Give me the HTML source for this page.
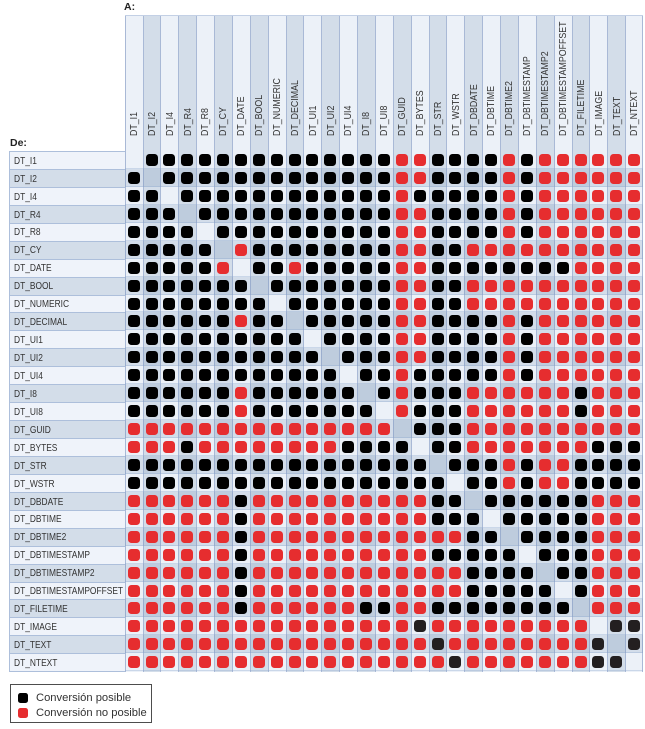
<!DOCTYPE html>
<html><head><meta charset="utf-8">
<style>
*{margin:0;padding:0;box-sizing:border-box}
body{width:645px;height:729px;background:#fff;position:relative;overflow:hidden;font-family:"Liberation Sans",Arial,sans-serif;color:#333}
.A{position:absolute;left:124px;top:1px;font-size:10.5px;font-weight:bold;color:#222}
.De{position:absolute;left:10px;top:137px;font-size:10.5px;font-weight:bold;color:#222}
.cols{position:absolute;left:124.7px;top:15px;height:656.7px;display:flex;border-top:1px solid #c3d0e5}
.c{position:relative;width:17.88px;height:100%;border-left:1px solid #a9b9d6;background:#ecf1f8}
.c:nth-child(even){background:#d3dde9}
.c:last-child{border-right:1px solid #a9b9d6}
.c span{position:absolute;left:3.3px;top:120px;font-size:10.5px;line-height:1;white-space:nowrap;transform-origin:0 0;transform:rotate(-90deg) scaleX(.84);color:#333}
.rows{position:absolute;left:124.7px;top:151px;width:518.6px}
.rows div{height:17.95px;border-bottom:1px solid rgba(140,165,205,.35)}
.rows div:nth-child(even){background:rgba(90,125,165,.17)}
.lab{position:absolute;left:9px;top:151px;width:115.7px;border-left:1px solid #adbfdb;border-top:1px solid #adbfdb}
.lab div{height:17.95px;border-bottom:1px solid #adbfdb;background:#eff3fa;font-size:10.5px;line-height:17.95px;padding-left:3.5px;white-space:nowrap}
.lab div:nth-child(even){background:#d3dde9}
.lab span{display:inline-block;transform:scaleX(.8);transform-origin:0 50%;position:relative;top:.7px}
.g{position:absolute;left:124.7px;top:151px;display:grid;grid-template-columns:repeat(29,17.88px);grid-auto-rows:17.95px}
.g i{display:block;width:12px;height:12px;margin:3px auto 0;border-radius:3.5px;background:#000}
.g i.r{background:#e62d2f}
.g i.e{background:none}
.g i.k{background:#231f20}
.leg{position:absolute;left:10px;top:684px;width:142px;height:39px;border:1px solid #4d4d4d}
.leg p{position:absolute;left:25px;font-size:11.2px;line-height:1;white-space:nowrap;color:#333}
.leg s{position:absolute;left:7px;width:10px;height:10px;border-radius:2.5px}
</style></head><body>
<div class="A">A:</div>
<div class="De">De:</div>
<div class="cols">
<div class="c"><span>DT_I1</span></div>
<div class="c"><span>DT_I2</span></div>
<div class="c"><span>DT_I4</span></div>
<div class="c"><span>DT_R4</span></div>
<div class="c"><span>DT_R8</span></div>
<div class="c"><span>DT_CY</span></div>
<div class="c"><span>DT_DATE</span></div>
<div class="c"><span>DT_BOOL</span></div>
<div class="c"><span>DT_NUMERIC</span></div>
<div class="c"><span>DT_DECIMAL</span></div>
<div class="c"><span>DT_UI1</span></div>
<div class="c"><span>DT_UI2</span></div>
<div class="c"><span>DT_UI4</span></div>
<div class="c"><span>DT_I8</span></div>
<div class="c"><span>DT_UI8</span></div>
<div class="c"><span>DT_GUID</span></div>
<div class="c"><span>DT_BYTES</span></div>
<div class="c"><span>DT_STR</span></div>
<div class="c"><span>DT_WSTR</span></div>
<div class="c"><span>DT_DBDATE</span></div>
<div class="c"><span>DT_DBTIME</span></div>
<div class="c"><span>DT_DBTIME2</span></div>
<div class="c"><span>DT_DBTIMESTAMP</span></div>
<div class="c"><span>DT_DBTIMESTAMP2</span></div>
<div class="c"><span>DT_DBTIMESTAMPOFFSET</span></div>
<div class="c"><span>DT_FILETIME</span></div>
<div class="c"><span>DT_IMAGE</span></div>
<div class="c"><span>DT_TEXT</span></div>
<div class="c"><span>DT_NTEXT</span></div>
</div>
<div class="rows">
<div></div><div></div><div></div><div></div><div></div><div></div><div></div><div></div><div></div><div></div>
<div></div><div></div><div></div><div></div><div></div><div></div><div></div><div></div><div></div><div></div>
<div></div><div></div><div></div><div></div><div></div><div></div><div></div><div></div><div></div>
</div>
<div class="lab">
<div><span>DT_I1</span></div>
<div><span>DT_I2</span></div>
<div><span>DT_I4</span></div>
<div><span>DT_R4</span></div>
<div><span>DT_R8</span></div>
<div><span>DT_CY</span></div>
<div><span>DT_DATE</span></div>
<div><span>DT_BOOL</span></div>
<div><span>DT_NUMERIC</span></div>
<div><span>DT_DECIMAL</span></div>
<div><span>DT_UI1</span></div>
<div><span>DT_UI2</span></div>
<div><span>DT_UI4</span></div>
<div><span>DT_I8</span></div>
<div><span>DT_UI8</span></div>
<div><span>DT_GUID</span></div>
<div><span>DT_BYTES</span></div>
<div><span>DT_STR</span></div>
<div><span>DT_WSTR</span></div>
<div><span>DT_DBDATE</span></div>
<div><span>DT_DBTIME</span></div>
<div><span>DT_DBTIME2</span></div>
<div><span>DT_DBTIMESTAMP</span></div>
<div><span>DT_DBTIMESTAMP2</span></div>
<div><span>DT_DBTIMESTAMPOFFSET</span></div>
<div><span>DT_FILETIME</span></div>
<div><span>DT_IMAGE</span></div>
<div><span>DT_TEXT</span></div>
<div><span>DT_NTEXT</span></div>
</div>
<div class="g">
<i class=e></i><i></i><i></i><i></i><i></i><i></i><i></i><i></i><i></i><i></i><i></i><i></i><i></i><i></i><i></i><i class=r></i><i class=r></i><i></i><i></i><i></i><i></i><i class=r></i><i></i><i class=r></i><i class=r></i><i class=r></i><i class=r></i><i class=r></i><i class=r></i>
<i></i><i class=e></i><i></i><i></i><i></i><i></i><i></i><i></i><i></i><i></i><i></i><i></i><i></i><i></i><i></i><i class=r></i><i class=r></i><i></i><i></i><i></i><i></i><i class=r></i><i></i><i class=r></i><i class=r></i><i class=r></i><i class=r></i><i class=r></i><i class=r></i>
<i></i><i></i><i class=e></i><i></i><i></i><i></i><i></i><i></i><i></i><i></i><i></i><i></i><i></i><i></i><i></i><i class=r></i><i></i><i></i><i></i><i></i><i></i><i class=r></i><i></i><i class=r></i><i class=r></i><i class=r></i><i class=r></i><i class=r></i><i class=r></i>
<i></i><i></i><i></i><i class=e></i><i></i><i></i><i></i><i></i><i></i><i></i><i></i><i></i><i></i><i></i><i></i><i class=r></i><i class=r></i><i></i><i></i><i></i><i></i><i class=r></i><i></i><i class=r></i><i class=r></i><i class=r></i><i class=r></i><i class=r></i><i class=r></i>
<i></i><i></i><i></i><i></i><i class=e></i><i></i><i></i><i></i><i></i><i></i><i></i><i></i><i></i><i></i><i></i><i class=r></i><i class=r></i><i></i><i></i><i></i><i></i><i class=r></i><i></i><i class=r></i><i class=r></i><i class=r></i><i class=r></i><i class=r></i><i class=r></i>
<i></i><i></i><i></i><i></i><i></i><i class=e></i><i class=r></i><i></i><i></i><i></i><i></i><i></i><i></i><i></i><i></i><i class=r></i><i class=r></i><i></i><i></i><i class=r></i><i class=r></i><i class=r></i><i class=r></i><i class=r></i><i class=r></i><i class=r></i><i class=r></i><i class=r></i><i class=r></i>
<i></i><i></i><i></i><i></i><i></i><i class=r></i><i class=e></i><i></i><i></i><i class=r></i><i></i><i></i><i></i><i></i><i></i><i class=r></i><i class=r></i><i></i><i></i><i></i><i></i><i></i><i></i><i></i><i></i><i class=r></i><i class=r></i><i class=r></i><i class=r></i>
<i></i><i></i><i></i><i></i><i></i><i></i><i></i><i class=e></i><i></i><i></i><i></i><i></i><i></i><i></i><i></i><i class=r></i><i class=r></i><i></i><i></i><i class=r></i><i class=r></i><i class=r></i><i class=r></i><i class=r></i><i class=r></i><i class=r></i><i class=r></i><i class=r></i><i class=r></i>
<i></i><i></i><i></i><i></i><i></i><i></i><i></i><i></i><i class=e></i><i></i><i></i><i></i><i></i><i></i><i></i><i class=r></i><i class=r></i><i></i><i></i><i class=r></i><i class=r></i><i class=r></i><i class=r></i><i class=r></i><i class=r></i><i class=r></i><i class=r></i><i class=r></i><i class=r></i>
<i></i><i></i><i></i><i></i><i></i><i></i><i class=r></i><i></i><i></i><i class=e></i><i></i><i></i><i></i><i></i><i></i><i class=r></i><i class=r></i><i></i><i></i><i></i><i></i><i class=r></i><i></i><i class=r></i><i class=r></i><i class=r></i><i class=r></i><i class=r></i><i class=r></i>
<i></i><i></i><i></i><i></i><i></i><i></i><i></i><i></i><i></i><i></i><i class=e></i><i></i><i></i><i></i><i></i><i class=r></i><i class=r></i><i></i><i></i><i></i><i></i><i class=r></i><i></i><i class=r></i><i class=r></i><i class=r></i><i class=r></i><i class=r></i><i class=r></i>
<i></i><i></i><i></i><i></i><i></i><i></i><i></i><i></i><i></i><i></i><i></i><i class=e></i><i></i><i></i><i></i><i class=r></i><i class=r></i><i></i><i></i><i></i><i></i><i class=r></i><i></i><i class=r></i><i class=r></i><i class=r></i><i class=r></i><i class=r></i><i class=r></i>
<i></i><i></i><i></i><i></i><i></i><i></i><i></i><i></i><i></i><i></i><i></i><i></i><i class=e></i><i></i><i></i><i class=r></i><i></i><i></i><i></i><i></i><i></i><i class=r></i><i></i><i class=r></i><i class=r></i><i class=r></i><i class=r></i><i class=r></i><i class=r></i>
<i></i><i></i><i></i><i></i><i></i><i></i><i class=r></i><i></i><i></i><i></i><i></i><i></i><i></i><i class=e></i><i></i><i class=r></i><i></i><i></i><i></i><i class=r></i><i class=r></i><i class=r></i><i class=r></i><i class=r></i><i class=r></i><i></i><i class=r></i><i class=r></i><i class=r></i>
<i></i><i></i><i></i><i></i><i></i><i></i><i class=r></i><i></i><i></i><i></i><i></i><i></i><i></i><i></i><i class=e></i><i class=r></i><i></i><i></i><i></i><i class=r></i><i class=r></i><i class=r></i><i class=r></i><i class=r></i><i class=r></i><i></i><i class=r></i><i class=r></i><i class=r></i>
<i class=r></i><i class=r></i><i class=r></i><i class=r></i><i class=r></i><i class=r></i><i class=r></i><i class=r></i><i class=r></i><i class=r></i><i class=r></i><i class=r></i><i class=r></i><i class=r></i><i class=r></i><i class=e></i><i></i><i></i><i></i><i class=r></i><i class=r></i><i class=r></i><i class=r></i><i class=r></i><i class=r></i><i class=r></i><i class=r></i><i class=r></i><i class=r></i>
<i class=r></i><i class=r></i><i class=r></i><i></i><i class=r></i><i class=r></i><i class=r></i><i class=r></i><i class=r></i><i class=r></i><i class=r></i><i class=r></i><i></i><i></i><i></i><i></i><i class=e></i><i></i><i></i><i class=r></i><i class=r></i><i class=r></i><i class=r></i><i class=r></i><i class=r></i><i class=r></i><i></i><i></i><i></i>
<i></i><i></i><i></i><i></i><i></i><i></i><i></i><i></i><i></i><i></i><i></i><i></i><i></i><i></i><i></i><i></i><i></i><i class=e></i><i></i><i></i><i></i><i class=r></i><i></i><i class=r></i><i class=r></i><i></i><i></i><i></i><i></i>
<i></i><i></i><i></i><i></i><i></i><i></i><i></i><i></i><i></i><i></i><i></i><i></i><i></i><i></i><i></i><i></i><i></i><i></i><i class=e></i><i></i><i></i><i class=r></i><i></i><i class=r></i><i class=r></i><i></i><i></i><i></i><i></i>
<i class=r></i><i class=r></i><i class=r></i><i class=r></i><i class=r></i><i class=r></i><i></i><i class=r></i><i class=r></i><i class=r></i><i class=r></i><i class=r></i><i class=r></i><i class=r></i><i class=r></i><i class=r></i><i class=r></i><i></i><i></i><i class=e></i><i></i><i></i><i></i><i></i><i></i><i></i><i class=r></i><i class=r></i><i class=r></i>
<i class=r></i><i class=r></i><i class=r></i><i class=r></i><i class=r></i><i class=r></i><i></i><i class=r></i><i class=r></i><i class=r></i><i class=r></i><i class=r></i><i class=r></i><i class=r></i><i class=r></i><i class=r></i><i class=r></i><i></i><i></i><i></i><i class=e></i><i></i><i></i><i></i><i></i><i></i><i class=r></i><i class=r></i><i class=r></i>
<i class=r></i><i class=r></i><i class=r></i><i class=r></i><i class=r></i><i class=r></i><i></i><i class=r></i><i class=r></i><i class=r></i><i class=r></i><i class=r></i><i class=r></i><i class=r></i><i class=r></i><i class=r></i><i class=r></i><i class=r></i><i class=r></i><i></i><i></i><i class=e></i><i></i><i></i><i></i><i></i><i class=r></i><i class=r></i><i class=r></i>
<i class=r></i><i class=r></i><i class=r></i><i class=r></i><i class=r></i><i class=r></i><i></i><i class=r></i><i class=r></i><i class=r></i><i class=r></i><i class=r></i><i class=r></i><i class=r></i><i class=r></i><i class=r></i><i class=r></i><i></i><i></i><i></i><i></i><i></i><i class=e></i><i></i><i></i><i></i><i class=r></i><i class=r></i><i class=r></i>
<i class=r></i><i class=r></i><i class=r></i><i class=r></i><i class=r></i><i class=r></i><i></i><i class=r></i><i class=r></i><i class=r></i><i class=r></i><i class=r></i><i class=r></i><i class=r></i><i class=r></i><i class=r></i><i class=r></i><i class=r></i><i class=r></i><i></i><i></i><i></i><i></i><i class=e></i><i></i><i></i><i class=r></i><i class=r></i><i class=r></i>
<i class=r></i><i class=r></i><i class=r></i><i class=r></i><i class=r></i><i class=r></i><i></i><i class=r></i><i class=r></i><i class=r></i><i class=r></i><i class=r></i><i class=r></i><i class=r></i><i class=r></i><i class=r></i><i class=r></i><i class=r></i><i class=r></i><i></i><i></i><i></i><i></i><i></i><i class=e></i><i></i><i class=r></i><i class=r></i><i class=r></i>
<i class=r></i><i class=r></i><i class=r></i><i class=r></i><i class=r></i><i class=r></i><i></i><i class=r></i><i class=r></i><i class=r></i><i class=r></i><i class=r></i><i class=r></i><i></i><i></i><i class=r></i><i class=r></i><i></i><i></i><i></i><i></i><i></i><i></i><i></i><i></i><i class=e></i><i class=r></i><i class=r></i><i class=r></i>
<i class=r></i><i class=r></i><i class=r></i><i class=r></i><i class=r></i><i class=r></i><i class=r></i><i class=r></i><i class=r></i><i class=r></i><i class=r></i><i class=r></i><i class=r></i><i class=r></i><i class=r></i><i class=r></i><i class=k></i><i class=r></i><i class=r></i><i class=r></i><i class=r></i><i class=r></i><i class=r></i><i class=r></i><i class=r></i><i class=r></i><i class=e></i><i class=k></i><i class=k></i>
<i class=r></i><i class=r></i><i class=r></i><i class=r></i><i class=r></i><i class=r></i><i class=r></i><i class=r></i><i class=r></i><i class=r></i><i class=r></i><i class=r></i><i class=r></i><i class=r></i><i class=r></i><i class=r></i><i class=r></i><i class=k></i><i class=r></i><i class=r></i><i class=r></i><i class=r></i><i class=r></i><i class=r></i><i class=r></i><i class=r></i><i class=k></i><i class=e></i><i class=k></i>
<i class=r></i><i class=r></i><i class=r></i><i class=r></i><i class=r></i><i class=r></i><i class=r></i><i class=r></i><i class=r></i><i class=r></i><i class=r></i><i class=r></i><i class=r></i><i class=r></i><i class=r></i><i class=r></i><i class=r></i><i class=r></i><i class=k></i><i class=r></i><i class=r></i><i class=r></i><i class=r></i><i class=r></i><i class=r></i><i class=r></i><i class=k></i><i class=k></i><i class=e></i>
</div>
<div class="leg">
<s style="top:8px;background:#000"></s><p style="top:8px">Conversión posible</p>
<s style="top:23px;background:#e62d2f"></s><p style="top:23px">Conversión no posible</p>
</div>
</body></html>
